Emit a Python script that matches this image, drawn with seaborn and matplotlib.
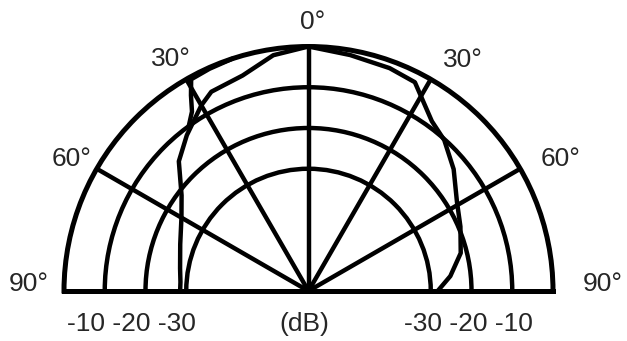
import numpy as np
import matplotlib
matplotlib.use("Agg")
import matplotlib.pyplot as plt
import seaborn as sns

# angles in degrees (0 = on axis, negative = left half), levels in dB
theta_left = [0, -8.5, -17, -26, -30, -38, -45, -53, -60, -70, -80, -86, -90]
db_left = [0, -1.5, -4.7, -5.6, -7.4, -11.5, -15, -21, -24, -26.5, -28, -28.5, -28.5]

# short branch near the outer ring on the left side
theta_left2 = [-18, -24, -29, -31, -33, -36]
db_left2 = [0, -0.3, -0.6, -4, -7.5, -10]

theta_right = [0, 10, 20, 27, 31, 36, 42, 50, 59, 67, 76, 84, 90]
db_right = [0, -1.2, -1.8, -2.5, -5.5, -8.5, -10.2, -13.5, -17.5, -19.5, -21.5, -25, -28.3]

rings = [-30, -20, -10]
spokes = [-60, -30, 0, 30, 60]

# text labels
angle_labels = ["0°", "30°", "30°", "60°", "60°", "90°", "90°"]
db_labels = ["-10 -20 -30", "(dB)", "-30 -20 -10"]

sns.set_style("white")
plt.rcParams['font.family'] = ['Liberation Sans', 'DejaVu Sans']

W, H = 627, 341
fig = plt.figure(figsize=(6.27, 3.41), dpi=100)
# the half disc is centred in a square box, so the box runs past the figure
side = 489
cx, cy, R = 308.5, 291, 244.5
ax = fig.add_axes([(cx - side / 2) / W, 1 - (cy - R / 2 + side / 2) / H, side / W, side / H],
				  projection='polar')

ax.set_theta_zero_location('N')
ax.set_theta_direction(-1)

for th, db in [(theta_left, db_left), (theta_left2, db_left2), (theta_right, db_right)]:
	sns.lineplot(x=np.deg2rad(th), y=db, ax=ax, sort=False, estimator=None,
				 color='black', linewidth=3.2, clip_on=False)

ax.set_thetamin(-90)
ax.set_thetamax(90)
ax.set_rlim(-60, 0)
ax.set_xticks(np.deg2rad(spokes))
ax.set_xticklabels([])
ax.set_yticks(rings)
ax.set_yticklabels([])
ax.set_xlabel('')
ax.set_ylabel('')
ax.tick_params(length=0)
ax.grid(True, color='black', linewidth=3.2)
for sp in ax.spines.values():
	sp.set_color('black')
	sp.set_linewidth(3.6)

# label placement (pixel centres in the reference picture)
txt = dict(fontsize=19, color='#262626', va='center')
pos = [(313, 22), (171, 59), (463, 60), (72, 159), (561, 159), (29, 284), (603, 284)]
for s, (x, y) in zip(angle_labels, pos):
	fig.text(x / W, 1 - y / H, s, ha='center', **txt)
for s, x in zip(db_labels, [131, 304, 468]):
	fig.text(x / W, 1 - 324 / H, s, ha='center', **txt)

fig.savefig('out.png', dpi=100)
